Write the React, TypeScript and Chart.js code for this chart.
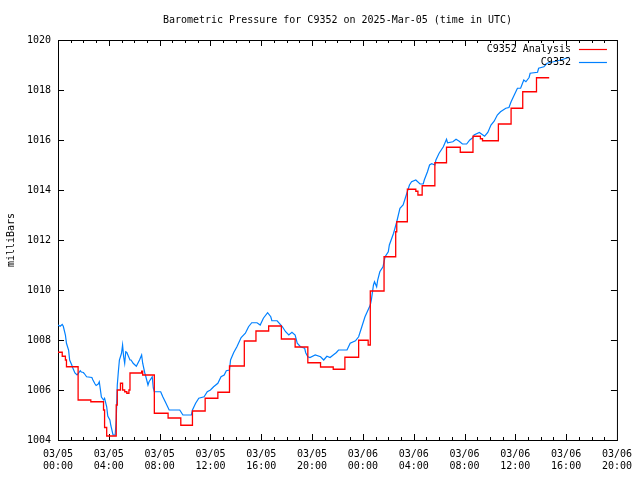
import React, { useEffect, useRef } from 'react';
import { Chart, registerables } from 'chart.js';

Chart.register(...registerables);

// ---- text ----
const TITLE = 'Barometric Pressure for C9352 on 2025-Mar-05 (time in UTC)';
const Y_LABEL = 'milliBars';
const SERIES_NAMES = ['C9352 Analysis', 'C9352'];
const DAY_LABELS = ['03/05', '03/06'];

// ---- axes (x in minutes since 03/05 00:00 UTC) ----
const Y_MIN = 1004;
const Y_MAX = 1020;
const Y_STEP = 2;
const X_MIN = 0;
const X_MAX = 2640;
const X_STEP = 240;

// ---- analysis (stepped) ----
const analysisMinutes = [
  0, 20, 35, 40, 95, 155, 215, 220, 230, 275, 280, 295, 305, 315, 325, 335, 340,
  395, 400, 455, 520, 580, 635, 695, 755, 810, 880, 935, 995, 1055, 1120, 1180,
  1240, 1300, 1355, 1420, 1465, 1475, 1540, 1595, 1600, 1650, 1690, 1700, 1720,
  1780, 1835, 1900, 1960, 1995, 2005, 2080, 2140, 2195, 2260, 2320,
];
const analysisValues = [
  1007.51, 1007.35, 1007.2, 1006.93, 1005.6, 1005.53, 1005.2, 1004.5, 1004.16,
  1005.4, 1006.0, 1006.27, 1006.0, 1005.93, 1005.87, 1006.0, 1006.68, 1006.75,
  1006.6, 1005.07, 1004.88, 1004.59, 1005.16, 1005.67, 1005.91, 1006.96, 1007.96,
  1008.36, 1008.56, 1008.04, 1007.72, 1007.09, 1006.92, 1006.83, 1007.31, 1007.99,
  1007.8, 1009.96, 1011.33, 1012.33, 1012.73, 1014.03, 1013.95, 1013.8, 1014.17,
  1015.09, 1015.71, 1015.51, 1016.15, 1016.05, 1015.97, 1016.64, 1017.27, 1017.93,
  1018.49, 1018.49,
];

// ---- station observations ----
const obsMinutes = [
  0, 10, 20, 25, 35, 40, 50, 55, 65, 70, 80, 90, 95, 105, 110, 120, 125, 135, 160,
  165, 175, 180, 190, 195, 205, 215, 220, 230, 235, 245, 250, 260, 270, 275, 280,
  285, 290, 300, 305, 310, 315, 320, 325, 340, 345, 355, 370, 385, 395, 400, 410,
  415, 425, 430, 445, 450, 455, 485, 495, 510, 525, 575, 590, 630, 635, 650, 665,
  690, 705, 720, 735, 755, 770, 785, 795, 810, 815, 830, 845, 865, 885, 900, 915,
  940, 955, 970, 990, 1005, 1010, 1035, 1060, 1075, 1090, 1105, 1120, 1130, 1145,
  1165, 1170, 1180, 1190, 1215, 1240, 1255, 1270, 1285, 1300, 1315, 1325, 1365,
  1380, 1405, 1420, 1435, 1450, 1475, 1480, 1490, 1495, 1505, 1510, 1520, 1535,
  1545, 1560, 1565, 1585, 1600, 1615, 1630, 1645, 1660, 1670, 1690, 1710, 1725,
  1730, 1745, 1755, 1765, 1780, 1785, 1800, 1820, 1835, 1840, 1865, 1880, 1895,
  1910, 1930, 1945, 1960, 1965, 1990, 2015, 2030, 2045, 2060, 2075, 2090, 2115,
  2130, 2140, 2155, 2170, 2185, 2200, 2210, 2225, 2230, 2265, 2270, 2295, 2310,
  2340, 2375, 2400, 2415,
];
const obsValues = [
  1008.6, 1008.55, 1008.62, 1008.55, 1008.2, 1007.87, 1007.6, 1007.2, 1007.0,
  1006.88, 1006.68, 1006.6, 1006.65, 1006.77, 1006.72, 1006.7, 1006.65, 1006.53,
  1006.5, 1006.4, 1006.24, 1006.18, 1006.24, 1006.33, 1005.72, 1005.6, 1005.67,
  1005.33, 1004.96, 1004.8, 1004.56, 1004.2, 1004.2, 1004.8, 1006.2, 1006.73,
  1007.2, 1007.47, 1007.8, 1007.33, 1007.07, 1007.53, 1007.5, 1007.2, 1007.2,
  1007.07, 1006.95, 1007.2, 1007.4, 1007.07, 1006.68, 1006.53, 1006.2, 1006.33,
  1006.53, 1006.08, 1005.93, 1005.93, 1005.73, 1005.47, 1005.2, 1005.2, 1005.0,
  1005.0, 1005.2, 1005.47, 1005.67, 1005.73, 1005.93, 1006.0, 1006.13, 1006.27,
  1006.53, 1006.6, 1006.77, 1006.8, 1007.2, 1007.5, 1007.73, 1008.1, 1008.27,
  1008.53, 1008.69, 1008.69, 1008.6, 1008.87, 1009.09, 1008.93, 1008.77, 1008.77,
  1008.53, 1008.33, 1008.2, 1008.31, 1008.2, 1007.87, 1007.73, 1007.67, 1007.49,
  1007.33, 1007.3, 1007.4, 1007.33, 1007.2, 1007.35, 1007.3, 1007.4, 1007.5,
  1007.6, 1007.6, 1007.87, 1007.97, 1008.13, 1008.53, 1008.93, 1009.4, 1009.6,
  1010.2, 1010.33, 1010.13, 1010.4, 1010.73, 1010.93, 1011.33, 1011.53, 1011.8,
  1012.27, 1012.73, 1013.27, 1013.4, 1013.8, 1014.2, 1014.33, 1014.4, 1014.24,
  1014.24, 1014.4, 1014.73, 1015.0, 1015.05, 1015.0, 1015.2, 1015.47, 1015.73,
  1016.03, 1015.89, 1015.93, 1016.03, 1015.95, 1015.84, 1015.84, 1016.0, 1016.1,
  1016.2, 1016.3, 1016.15, 1016.3, 1016.6, 1016.75, 1017.0, 1017.13, 1017.27,
  1017.3, 1017.53, 1017.8, 1018.07, 1018.07, 1018.4, 1018.33, 1018.5, 1018.67,
  1018.71, 1018.87, 1018.93, 1019.07, 1019.13, 1019.2, 1019.27, 1019.31,
];

const COLORS = ['#ff0000', '#0080ff'];
const FONT = '"DejaVu Sans Mono", "Liberation Mono", monospace';

function toPoints(xs: number[], ys: number[]) {
  return xs.map((x, i) => ({ x, y: ys[i] }));
}

const decorPlugin = {
  id: 'gnuDecor',
  beforeDatasetsDraw(chart: any) {
    const { ctx, chartArea: a, scales } = chart;
    ctx.save();
    ctx.strokeStyle = '#000';
    ctx.lineWidth = 1;
    ctx.strokeRect(a.left + 0.5, a.top + 0.5, a.right - a.left, a.bottom - a.top);
    ctx.beginPath();
    // x ticks: every hour, longer every 4 hours, bottom and mirrored on top
    for (let m = X_MIN + 60; m < X_MAX; m += 60) {
      const px = Math.round(scales.x.getPixelForValue(m)) + 0.5;
      const len = m % X_STEP === 0 ? 6 : 3;
      ctx.moveTo(px, a.bottom);
      ctx.lineTo(px, a.bottom - len);
      ctx.moveTo(px, a.top);
      ctx.lineTo(px, a.top + len);
    }
    for (let v = Y_MIN + Y_STEP; v < Y_MAX; v += Y_STEP) {
      const py = Math.round(scales.y.getPixelForValue(v)) + 0.5;
      ctx.moveTo(a.left, py);
      ctx.lineTo(a.left + 6, py);
      ctx.moveTo(a.right, py);
      ctx.lineTo(a.right - 6, py);
    }
    ctx.stroke();
    ctx.restore();
  },
  afterDraw(chart: any) {
    const { ctx, chartArea: a } = chart;
    ctx.save();
    ctx.fillStyle = '#000';
    ctx.font = `10px ${FONT}`;
    ctx.textBaseline = 'middle';
    // title
    ctx.textAlign = 'center';
    ctx.fillText(TITLE, (a.left + a.right) / 2, 20);
    // legend (gnuplot style: text, then line sample)
    ctx.textAlign = 'right';
    const rows = [49, 62];
    SERIES_NAMES.forEach((name, i) => {
      ctx.fillStyle = '#000';
      ctx.fillText(name, a.right - 46, rows[i]);
      ctx.strokeStyle = COLORS[i];
      ctx.lineWidth = 1.2;
      ctx.beginPath();
      ctx.moveTo(a.right - 38, rows[i] + 0.5);
      ctx.lineTo(a.right - 10, rows[i] + 0.5);
      ctx.stroke();
    });
    ctx.restore();
  },
};

export default function App() {
  const ref = useRef<HTMLCanvasElement | null>(null);

  useEffect(() => {
    document.body.style.margin = '0';
    const canvas = ref.current;
    if (!canvas) return;
    const chart = new Chart(canvas, {
      type: 'line',
      data: {
        datasets: [
          {
            label: SERIES_NAMES[0],
            data: toPoints(analysisMinutes, analysisValues),
            borderColor: COLORS[0],
            backgroundColor: COLORS[0],
            borderWidth: 1.3,
            pointRadius: 0,
            stepped: true,
            fill: false,
          },
          {
            label: SERIES_NAMES[1],
            data: toPoints(obsMinutes, obsValues),
            borderColor: COLORS[1],
            backgroundColor: COLORS[1],
            borderWidth: 1.2,
            pointRadius: 0,
            tension: 0,
            fill: false,
          },
        ],
      },
      options: {
        animation: false,
        responsive: false,
        maintainAspectRatio: false,
        devicePixelRatio: 1,
        layout: { padding: { top: 40, right: 20, left: 0, bottom: 0 } },
        plugins: {
          legend: { display: false },
          title: { display: false },
          tooltip: { enabled: false },
        },
        scales: {
          x: {
            type: 'linear',
            min: X_MIN,
            max: X_MAX,
            grid: { display: false, drawTicks: false },
            border: { display: false },
            afterFit: (s: any) => {
              s.height = 40;
            },
            ticks: {
              stepSize: X_STEP,
              autoSkip: false,
              maxRotation: 0,
              minRotation: 0,
              padding: 8,
              color: '#000',
              font: { family: FONT, size: 10, lineHeight: 1.2 },
              callback: (v: any) => {
                const m = Number(v);
                const day = DAY_LABELS[Math.floor(m / 1440)] ?? '';
                const hh = Math.floor((m % 1440) / 60);
                return [day, `${String(hh).padStart(2, '0')}:00`];
              },
            },
          },
          y: {
            type: 'linear',
            min: Y_MIN,
            max: Y_MAX,
            grid: { display: false, drawTicks: false },
            border: { display: false },
            afterFit: (s: any) => {
              s.width = 58;
            },
            title: {
              display: true,
              text: Y_LABEL,
              color: '#000',
              font: { family: FONT, size: 10, lineHeight: 1.2 },
              padding: { top: 5, bottom: 0 },
            },
            ticks: {
              stepSize: Y_STEP,
              padding: 7,
              color: '#000',
              font: { family: FONT, size: 10, lineHeight: 1.2 },
              callback: (v: any) => String(Math.round(Number(v))),
            },
          },
        },
      },
      plugins: [decorPlugin],
    });
    return () => chart.destroy();
  }, []);

  return <canvas ref={ref} width={640} height={480} style={{ display: 'block' }} />;
}
